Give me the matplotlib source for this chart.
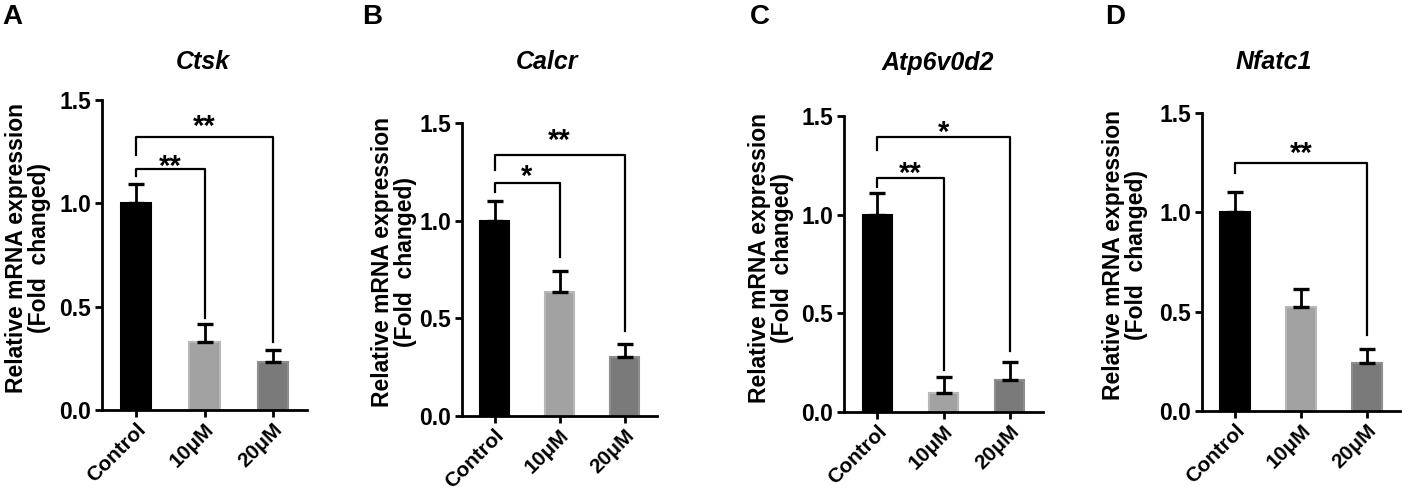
import numpy as np
import matplotlib
matplotlib.use('Agg')
import matplotlib.pyplot as plt

plt.rcParams['font.family'] = ['Liberation Sans', 'DejaVu Sans']
plt.rcParams['font.weight'] = 'bold'
plt.rcParams.update({'font.size': 15})

# dades llegides de la figura
grups = ['Control', '10μM', '20μM']
gens = ['Ctsk', 'Calcr', 'Atp6v0d2', 'Nfatc1']
lletres = ['A', 'B', 'C', 'D']

mitjanes = {
    'Ctsk': [1.0, 0.33, 0.23],
    'Calcr': [1.0, 0.635, 0.30],
    'Atp6v0d2': [1.0, 0.095, 0.16],
    'Nfatc1': [1.0, 0.525, 0.24],
}
errors = {
    'Ctsk': [0.095, 0.085, 0.06],
    'Calcr': [0.10, 0.105, 0.07],
    'Atp6v0d2': [0.11, 0.08, 0.095],
    'Nfatc1': [0.10, 0.09, 0.073],
}
# claudators de significació: (grup final, y barra, peu esquerre, peu dret, text, y text)
claudators = {
    'Ctsk': [(1, 1.166, 1.13, 0.445, '**', 1.22), (2, 1.32, 1.234, 0.33, '**', 1.41)],
    'Calcr': [(1, 1.194, 1.148, 0.816, '*', 1.27), (2, 1.335, 1.259, 0.434, '**', 1.45)],
    'Atp6v0d2': [(1, 1.185, 1.142, 0.214, '**', 1.25), (2, 1.392, 1.33, 0.307, '*', 1.46)],
    'Nfatc1': [(2, 1.248, 1.197, 0.385, '**', 1.34)],
}

colors = ['#000000', '#a2a2a2', '#7a7a7a']
vores = ['#000000', '#b8b8b8', '#8e8e8e']

W, H = 1402, 492
fig = plt.figure(figsize=(W / 100, H / 100), dpi=100)

# posicions en píxels: esquerra, dreta, dalt (1.5), baix (0.0)
caixes = [(102, 307, 100, 410), (462, 657, 123, 416), (844, 1043, 116, 412), (1202, 1400, 113, 411)]
titols_xy = [(203, 62), (547, 62), (938, 63), (1274, 62)]
lletres_xy = [(12, 17), (372, 17), (760, 17), (1115, 17)]
ylabel_xy = [(28, 248), (394, 262), (771, 258), (1125, 255)]

for k, gen in enumerate(gens):
    l, r, t, b = caixes[k]
    ax = fig.add_axes([l / W, 1 - b / H, (r - l) / W, (b - t) / H])
    x = np.arange(len(grups))
    m = mitjanes[gen]
    e = errors[gen]
    ax.bar(x, m, width=0.44, color=colors, edgecolor=vores, linewidth=1.5, zorder=2)
    ax.errorbar(x, m, yerr=[np.zeros(3), e], fmt='none', ecolor='black',
                elinewidth=2, capsize=6, capthick=2.4, zorder=3)

    for (j, yb, yl, yr, txt, yt) in claudators[gen]:
        ax.plot([0, 0, j, j], [yl, yb, yb, yr], color='black', lw=1.6, zorder=4)
        ax.annotate(txt, xy=(j / 2, yt), xytext=(0, -12), textcoords='offset points',
                    ha='center', va='baseline', fontsize=21, fontweight='bold')

    ax.set_xlim(-0.5, 2.5)
    ax.set_ylim(0, 1.5)
    ax.set_yticks([0, 0.5, 1.0, 1.5])
    ax.set_yticklabels(['0.0', '0.5', '1.0', '1.5'])
    ax.set_xticks(x)
    ax.set_xticklabels(grups, rotation=45, ha='right', rotation_mode='anchor')
    for s in ['top', 'right']:
        ax.spines[s].set_visible(False)
    for s in ['left', 'bottom']:
        ax.spines[s].set_linewidth(2)
    ax.tick_params(direction='out', length=5, width=2, pad=3)
    ax.tick_params(axis='y', labelsize=16.5)
    ax.tick_params(axis='x', labelsize=15, pad=2)

    tx, ty = titols_xy[k]
    fig.text(tx / W, 1 - ty / H, gen, ha='center', va='center', fontsize=18,
             fontweight='bold', fontstyle='italic')
    lx, ly = lletres_xy[k]
    fig.text(lx / W, 1 - ly / H, lletres[k], ha='center', va='center', fontsize=20, fontweight='bold')
    yx, yy = ylabel_xy[k]
    fig.text(yx / W, 1 - yy / H, 'Relative mRNA expression\n(Fold  changed)', rotation=90,
             ha='center', va='center', multialignment='center', fontsize=16.5,
             fontweight='bold', linespacing=1.05)

plt.savefig('out.png', dpi=100)
